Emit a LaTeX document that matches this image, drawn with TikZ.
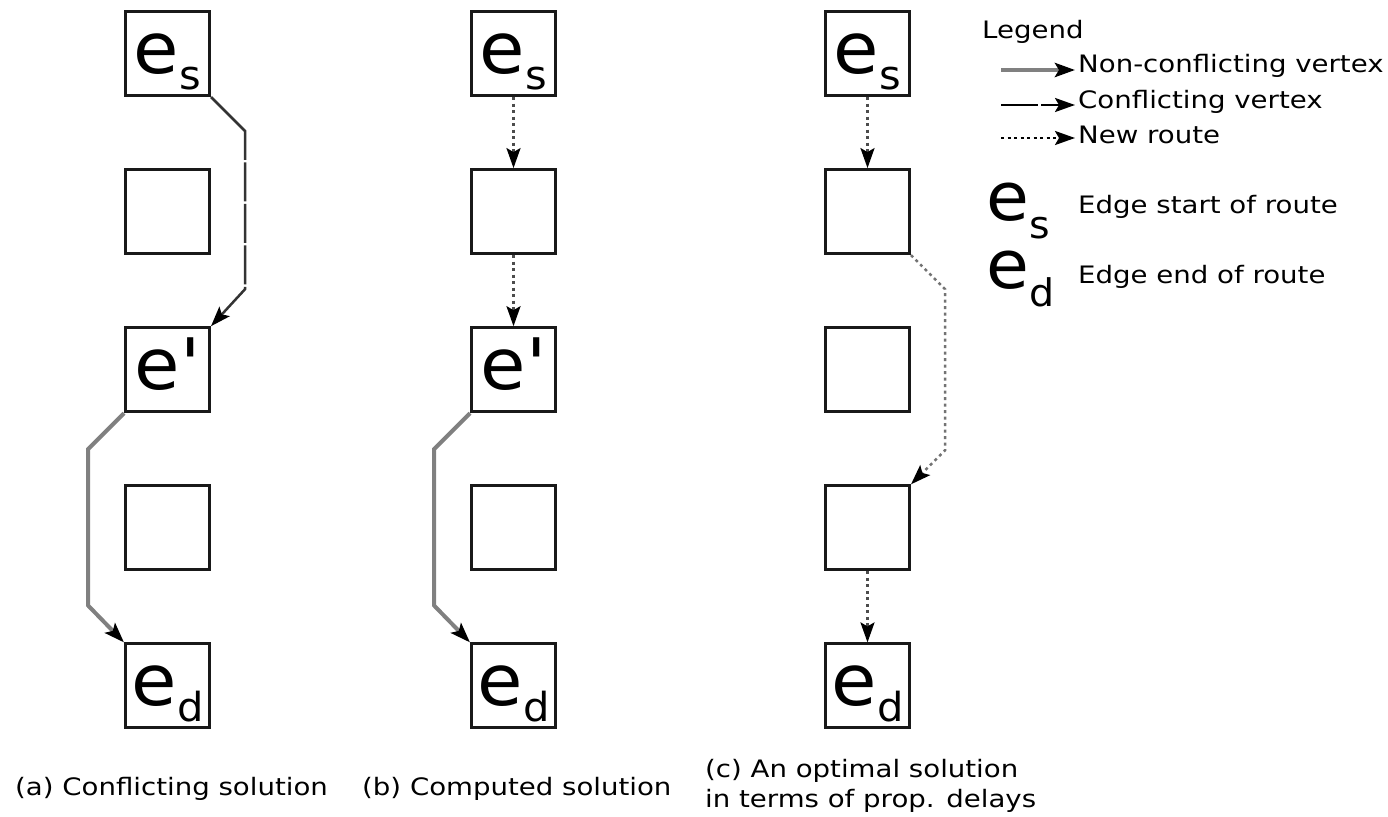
\documentclass[tikz,border=0pt]{standalone}
\usepackage{fontspec}
\usepackage{graphicx}
\setmainfont{DejaVu Sans}
\newfontfamily\lblfont{DejaVu Sans}[FakeStretch=1.15]
\newfontfamily\bigfont{DejaVu Sans}[FakeStretch=1.04]
\usetikzlibrary{arrows.meta}

% big edge letters with a lowered index
\newcommand{\boxlabel}[1]{{\bigfont\fontsize{71pt}{71pt}\selectfont e\raisebox{-16pt}{\fontsize{40pt}{40pt}\selectfont #1}}}
\newcommand{\keylabel}[1]{{\bigfont\fontsize{67pt}{67pt}\selectfont e\raisebox{-18pt}{\fontsize{38pt}{38pt}\selectfont #1}}}

\begin{document}
\begin{tikzpicture}[x=1pt,y=-1pt,
  box/.style={draw=black!90, line width=3pt, minimum size=84pt, inner sep=0pt,
              text height=45pt, text depth=5pt},
  tip/.style={-{Stealth[length=20pt,width=14pt,inset=4pt,color=black]}},
  nonconf/.style={tip, draw=black!50, line width=4pt},
  conf/.style={tip, draw=black!80, line width=2.5pt,
    dash pattern=on 77pt off 2.5pt on 39pt off 2.5pt on 39pt off 2.5pt on 39pt off 2.5pt on 300pt off 1pt},
  keyconf/.style={tip, draw=black, line width=2.5pt, dash pattern=on 37pt off 3pt},
  newroute/.style={tip, draw=black!70, line width=2.5pt, dash pattern=on 3pt off 3.5pt},
  txt/.style={font=\lblfont\fontsize{24pt}{30pt}\selectfont, anchor=base west, inner sep=0pt}]
\useasboundingbox (0,0) rectangle (1388,816);

% (a) conflicting solution
\node[box] (a1) at (167.5,53.5)  {\boxlabel{s}};
\node[box] (a2) at (167.5,211.6) {};
\node[box] (a3) at (167.5,369.7) {\bigfont\fontsize{71pt}{71pt}\selectfont e'};
\node[box] (a4) at (167.5,527.8) {};
\node[box] (a5) at (167.5,685.9) {\boxlabel{d}};

% (b) computed solution
\node[box] (b1) at (513.5,53.5)  {\boxlabel{s}};
\node[box] (b2) at (513.5,211.6) {};
\node[box] (b3) at (513.5,369.7) {\bigfont\fontsize{71pt}{71pt}\selectfont e'};
\node[box] (b4) at (513.5,527.8) {};
\node[box] (b5) at (513.5,685.9) {\boxlabel{d}};

% (c) optimal solution
\node[box] (c1) at (867.5,53.5)  {\boxlabel{s}};
\node[box] (c2) at (867.5,211.6) {};
\node[box] (c3) at (867.5,369.7) {};
\node[box] (c4) at (867.5,527.8) {};
\node[box] (c5) at (867.5,685.9) {\boxlabel{d}};

% routes of (a)
\draw[conf] (a1.south east) -- ([xshift=34pt,yshift=-34pt]a1.south east)
  -- ([xshift=34pt,yshift=37pt]a3.north east) -- (a3.north east);
\draw[nonconf] (a3.south west) -- ([xshift=-36pt,yshift=-36pt]a3.south west)
  -- ([xshift=-36pt,yshift=37pt]a5.north west) -- (a5.north west);

% routes of (b)
\draw[newroute] (b1) -- (b2);
\draw[newroute] (b2) -- (b3);
\draw[nonconf] (b3.south west) -- ([xshift=-36pt,yshift=-36pt]b3.south west)
  -- ([xshift=-36pt,yshift=37pt]b5.north west) -- (b5.north west);

% routes of (c)
\draw[newroute] (c1) -- (c2);
\draw[newroute, draw=black!55] (c2.south east) -- ([xshift=34pt,yshift=-34pt]c2.south east)
  -- ([xshift=34pt,yshift=34pt]c4.north east) -- (c4.north east);
\draw[newroute] (c4) -- (c5);

% legend
\node[txt] (legend) at (982,38) {Legend};
\coordinate (k1s) at (1001,70);  \coordinate (k1e) at (1075,70);
\coordinate (k2s) at (1001,105); \coordinate (k2e) at (1075,105);
\coordinate (k3s) at (1001,138); \coordinate (k3e) at (1075,138);
\draw[nonconf] (k1s) -- (k1e);
\draw[keyconf] (k2s) -- (k2e);
\draw[newroute, draw=black] (k3s) -- (k3e);
\node[txt] (k1t) at (1078,73)  {Non-conflicting vertex};
\node[txt] (k2t) at (1078,108) {Conflicting vertex};
\node[txt] (k3t) at (1078,143) {New route};
\node[anchor=base west, inner sep=0pt] (kes) at (986,220) {\keylabel{s}};
\node[anchor=base west, inner sep=0pt] (ked) at (986,288) {\keylabel{d}};
\node[txt] (kest) at (1078,213) {Edge start of route};
\node[txt] (kedt) at (1078,283) {Edge end of route};

% captions
\node[txt] (capa)  at (15,795)  {(a) Conflicting solution};
\node[txt] (capb)  at (362,795) {(b) Computed solution};
\node[txt] (capc1) at (705,777) {(c) An optimal solution};
\node[txt] (capc2) at (705,807) {in terms of prop. delays};
\end{tikzpicture}
\end{document}
